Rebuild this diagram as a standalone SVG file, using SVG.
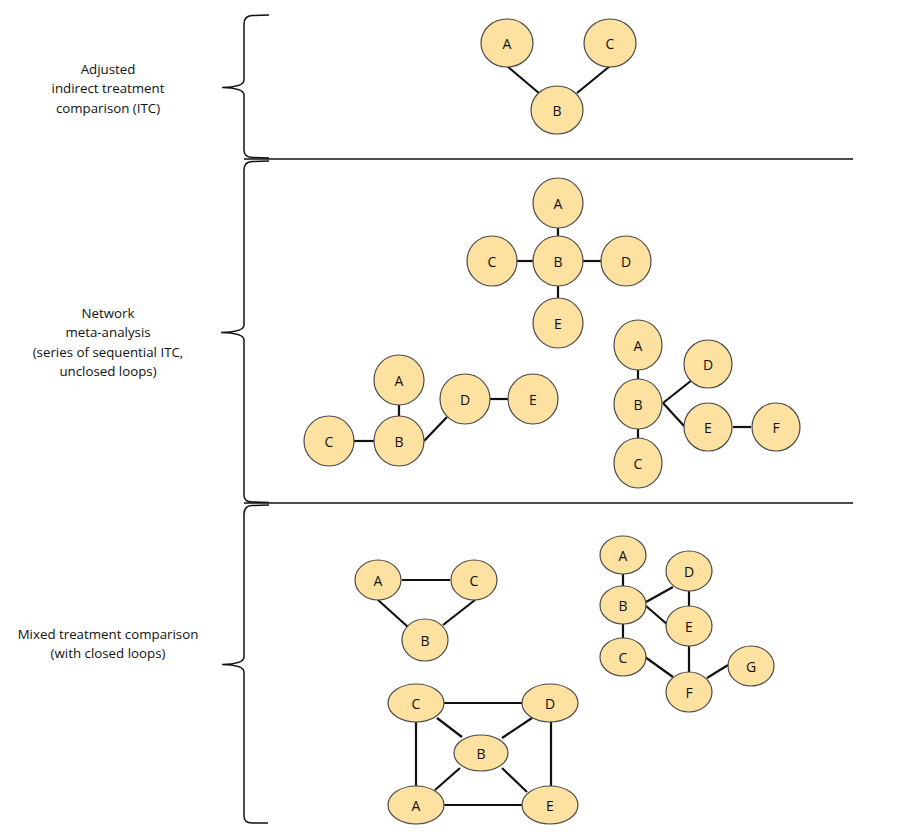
<svg xmlns="http://www.w3.org/2000/svg" width="904" height="838" viewBox="0 0 904 838">
<style>
.n ellipse{fill:#FCE1A0;stroke:#4a4a4a;stroke-width:1.2}
.n text{font-family:"Open Sans","Noto Sans",sans-serif;font-size:14px;fill:#111;text-anchor:middle;dominant-baseline:central}
.lbl{font-family:"Open Sans","Noto Sans",sans-serif;font-size:13.3px;fill:#111;text-anchor:middle}
.br{fill:none;stroke:#111;stroke-width:1.5}
.sep{stroke:#111;stroke-width:1.5}
#edges line{stroke:#111;stroke-width:2.2}
</style>
<rect width="904" height="838" fill="#fff"/>
<g id="section-labels">
<text class="lbl" x="108" y="74">Adjusted</text>
<text class="lbl" x="108" y="93">indirect treatment</text>
<text class="lbl" x="108" y="113">comparison (ITC)</text>
<text class="lbl" x="108" y="318">Network</text>
<text class="lbl" x="108" y="337">meta-analysis</text>
<text class="lbl" x="108" y="357">(series of sequential ITC,</text>
<text class="lbl" x="108" y="376">unclosed loops)</text>
<text class="lbl" x="108" y="639">Mixed treatment comparison</text>
<text class="lbl" x="108" y="658">(with closed loops)</text>
</g>
<g id="braces">
<path class="br" d="M269,15 L252,15.5 Q244,16 244,24 L244,80 Q244,87 222,87.5 Q244,88 244,95 L244,150 Q244,157 252,157.5 L269,158"/>
<path class="br" d="M269,161 L252,161.5 Q244,162 244,170 L244,325 Q244,332 221,332.5 Q244,333 244,340 L244,495 Q244,502 252,502 L269,502.5"/>
<path class="br" d="M269,505 L252,505.5 Q244,506 244,514 L244,657 Q244,664 222,664.5 Q244,665 244,672 L244,816 Q244,823 252,823 L268,823"/>
<line class="sep" x1="244" y1="159" x2="853" y2="159"/>
<line class="sep" x1="244" y1="503" x2="853" y2="503"/>
</g>
<g id="edges">
<line x1="507" y1="66" x2="540" y2="94"/>
<line x1="610" y1="66" x2="577" y2="93"/>
<line x1="558" y1="228" x2="558" y2="236"/>
<line x1="517" y1="261" x2="533" y2="261"/>
<line x1="583" y1="261" x2="601" y2="261"/>
<line x1="558" y1="286" x2="558" y2="298"/>
<line x1="399" y1="405" x2="399" y2="416"/>
<line x1="354" y1="441" x2="374" y2="441"/>
<line x1="424" y1="441" x2="447" y2="417"/>
<line x1="490" y1="399" x2="508" y2="399"/>
<line x1="638" y1="370" x2="638" y2="380"/>
<line x1="638" y1="428" x2="638" y2="438"/>
<line x1="663" y1="403" x2="692" y2="380"/>
<line x1="663" y1="403" x2="684" y2="426"/>
<line x1="733" y1="427" x2="751" y2="427"/>
<line x1="402" y1="580" x2="450" y2="580"/>
<line x1="378" y1="600" x2="408" y2="627"/>
<line x1="475" y1="600" x2="443" y2="625"/>
<line x1="444" y1="703" x2="522" y2="703"/>
<line x1="416" y1="722" x2="416" y2="786"/>
<line x1="551" y1="722" x2="551" y2="786"/>
<line x1="444" y1="805" x2="522" y2="805"/>
<line x1="437" y1="718" x2="462" y2="737"/>
<line x1="532" y1="718" x2="502" y2="738"/>
<line x1="435" y1="790" x2="460" y2="768"/>
<line x1="502" y1="768" x2="527" y2="792"/>
<line x1="623" y1="574" x2="623" y2="586"/>
<line x1="623" y1="624" x2="623" y2="638"/>
<line x1="646" y1="602" x2="673" y2="587"/>
<line x1="646" y1="606" x2="668" y2="625"/>
<line x1="689" y1="591" x2="689" y2="607"/>
<line x1="689" y1="645" x2="689" y2="675"/>
<line x1="645" y1="657" x2="673" y2="677"/>
<line x1="707" y1="678" x2="728" y2="665"/>
</g>
<g id="itc-A" class="n"><ellipse cx="507" cy="43" rx="26" ry="24"/><text x="507" y="43">A</text></g>
<g id="itc-C" class="n"><ellipse cx="610" cy="43" rx="26" ry="24"/><text x="610" y="43">C</text></g>
<g id="itc-B" class="n"><ellipse cx="557" cy="110" rx="26" ry="24"/><text x="557" y="110">B</text></g>
<g id="nma1-A" class="n"><ellipse cx="558" cy="203" rx="25" ry="25"/><text x="558" y="203">A</text></g>
<g id="nma1-B" class="n"><ellipse cx="558" cy="261" rx="25" ry="25"/><text x="558" y="261">B</text></g>
<g id="nma1-C" class="n"><ellipse cx="492" cy="261" rx="25" ry="25"/><text x="492" y="261">C</text></g>
<g id="nma1-D" class="n"><ellipse cx="626" cy="261" rx="25" ry="25"/><text x="626" y="261">D</text></g>
<g id="nma1-E" class="n"><ellipse cx="558" cy="323" rx="25" ry="25"/><text x="558" y="323">E</text></g>
<g id="nma2-A" class="n"><ellipse cx="399" cy="380" rx="25" ry="25"/><text x="399" y="380">A</text></g>
<g id="nma2-B" class="n"><ellipse cx="399" cy="441" rx="25" ry="25"/><text x="399" y="441">B</text></g>
<g id="nma2-C" class="n"><ellipse cx="329" cy="441" rx="25" ry="25"/><text x="329" y="441">C</text></g>
<g id="nma2-D" class="n"><ellipse cx="465" cy="399" rx="25" ry="25"/><text x="465" y="399">D</text></g>
<g id="nma2-E" class="n"><ellipse cx="533" cy="399" rx="25" ry="25"/><text x="533" y="399">E</text></g>
<g id="nma3-A" class="n"><ellipse cx="638" cy="345" rx="24" ry="25"/><text x="638" y="345">A</text></g>
<g id="nma3-B" class="n"><ellipse cx="638" cy="404" rx="24" ry="25"/><text x="638" y="404">B</text></g>
<g id="nma3-C" class="n"><ellipse cx="638" cy="463" rx="24" ry="25"/><text x="638" y="463">C</text></g>
<g id="nma3-D" class="n"><ellipse cx="708" cy="364" rx="24" ry="24"/><text x="708" y="364">D</text></g>
<g id="nma3-E" class="n"><ellipse cx="708" cy="427" rx="24" ry="24"/><text x="708" y="427">E</text></g>
<g id="nma3-F" class="n"><ellipse cx="776" cy="427" rx="24" ry="24"/><text x="776" y="427">F</text></g>
<g id="mtc1-A" class="n"><ellipse cx="378" cy="580" rx="23" ry="20"/><text x="378" y="580">A</text></g>
<g id="mtc1-C" class="n"><ellipse cx="474" cy="580" rx="23" ry="20"/><text x="474" y="580">C</text></g>
<g id="mtc1-B" class="n"><ellipse cx="425" cy="640" rx="23" ry="21"/><text x="425" y="640">B</text></g>
<g id="mtc2-C" class="n"><ellipse cx="416" cy="703" rx="28" ry="19"/><text x="416" y="703">C</text></g>
<g id="mtc2-D" class="n"><ellipse cx="550" cy="703" rx="28" ry="19"/><text x="550" y="703">D</text></g>
<g id="mtc2-B" class="n"><ellipse cx="481" cy="753" rx="27" ry="18"/><text x="481" y="753">B</text></g>
<g id="mtc2-A" class="n"><ellipse cx="416" cy="805" rx="28" ry="19"/><text x="416" y="805">A</text></g>
<g id="mtc2-E" class="n"><ellipse cx="550" cy="805" rx="28" ry="19"/><text x="550" y="805">E</text></g>
<g id="mtc3-A" class="n"><ellipse cx="623" cy="555" rx="23" ry="19"/><text x="623" y="555">A</text></g>
<g id="mtc3-B" class="n"><ellipse cx="623" cy="605" rx="23" ry="19"/><text x="623" y="605">B</text></g>
<g id="mtc3-C" class="n"><ellipse cx="623" cy="657" rx="23" ry="19"/><text x="623" y="657">C</text></g>
<g id="mtc3-D" class="n"><ellipse cx="689" cy="571" rx="23" ry="20"/><text x="689" y="571">D</text></g>
<g id="mtc3-E" class="n"><ellipse cx="689" cy="626" rx="23" ry="20"/><text x="689" y="626">E</text></g>
<g id="mtc3-F" class="n"><ellipse cx="689" cy="692" rx="23" ry="20"/><text x="689" y="692">F</text></g>
<g id="mtc3-G" class="n"><ellipse cx="751" cy="666" rx="23" ry="20"/><text x="751" y="666">G</text></g>
</svg>
